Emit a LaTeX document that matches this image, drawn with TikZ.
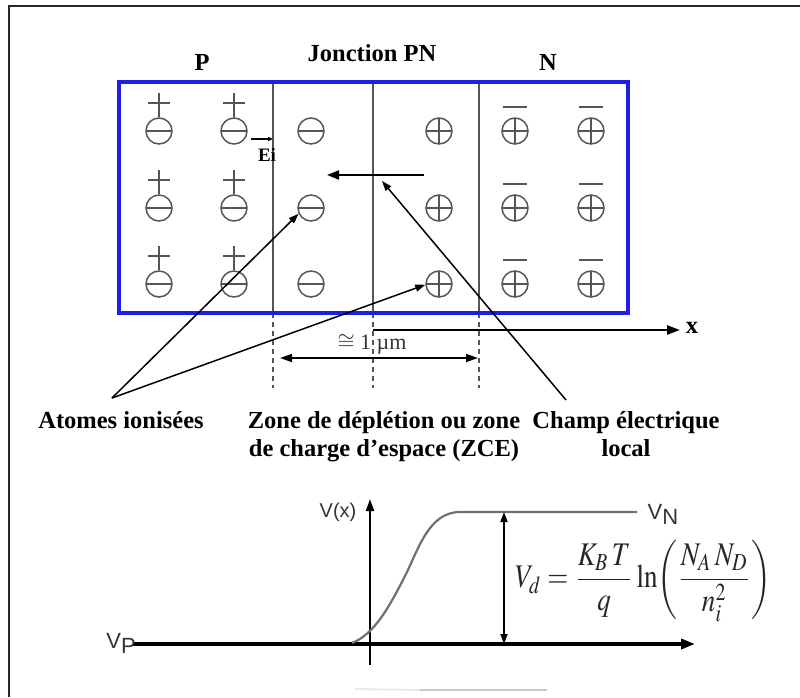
\documentclass[tikz,border=0pt]{standalone}
\usepackage{amsmath}
\usepackage{mathptmx}
\usepackage{fontspec}
\setmainfont{Liberation Serif}
\setsansfont{Liberation Sans}
\usetikzlibrary{arrows.meta}
\definecolor{ioncol}{HTML}{555555}
\definecolor{boxblue}{HTML}{1E1EE6}
\definecolor{curvecol}{HTML}{707070}
\begin{document}
\begin{tikzpicture}[x=1pt,y=-1pt,
  lbl/.style={font=\fontsize{24.5}{28}\selectfont\bfseries, align=center, inner sep=0},
  negion/.style={circle, draw=ioncol, line width=1.5, minimum size=26, inner sep=0,
    path picture={\draw[ioncol,line width=1.5] (path picture bounding box.west) -- (path picture bounding box.east);}},
  posion/.style={circle, draw=ioncol, line width=1.5, minimum size=26, inner sep=0,
    path picture={\draw[ioncol,line width=1.5] (path picture bounding box.west) -- (path picture bounding box.east)
      (path picture bounding box.north) -- (path picture bounding box.south);}},
  sep/.style={draw=ioncol, line width=1.5},
  dsep/.style={draw=ioncol, line width=1.5, dash pattern=on 5pt off 4pt},
  ptr/.style={line width=1.5, -{Triangle[length=10,width=7]}},
  sans/.style={font=\fontsize{20}{22}\sffamily, text=black!80, inner sep=0},
]
\useasboundingbox (0,0) rectangle (800,697);
% outer frame
\draw[line width=2.2, black!85] (9,697) -- (9,6) -- (800,6);

% titles
\node[lbl] (tP) at (202,62) {P};
\node[lbl] (tJ) at (372,53) {Jonction PN};
\node[lbl] (tN) at (548,62) {N};

% separators
\foreach \x in {273,373,479} {
  \draw[sep] (\x,82) -- (\x,313);
  \draw[dsep] (\x,313) -- (\x,388);
}
% blue box
\draw[boxblue, line width=4] (119,82) rectangle (628,313);

% ions
\foreach \r/\y in {1/131,2/208,3/284} {
  \node[negion] (pa\r) at (159,\y) {};
  \node[negion] (pb\r) at (234,\y) {};
  \node[negion] (nd\r) at (311,\y) {};
  \node[posion] (pd\r) at (439,\y) {};
  \node[posion] (na\r) at (515,\y) {};
  \node[posion] (nb\r) at (591,\y) {};
  % holes (+) above P ions
  \draw[ioncol, line width=1.5] (148,\y-28) -- (170,\y-28) (159,\y-38) -- (159,\y-14);
  \draw[ioncol, line width=1.5] (223,\y-28) -- (245,\y-28) (234,\y-38) -- (234,\y-14);
  % electrons (-) above N ions
  \draw[ioncol, line width=1.5] (503,\y-24) -- (527,\y-24);
  \draw[ioncol, line width=1.5] (579,\y-24) -- (603,\y-24);
}

% Ei label
\coordinate (eia) at (251,139);
\coordinate (eib) at (273,139);
\draw[line width=1.2, -{Triangle[length=5,width=4]}] (eia) -- (eib);
\node[font=\fontsize{19}{19}\selectfont\bfseries, inner sep=0] (ei) at (267,155) {Ei};

% local field arrow
\coordinate (Es) at (424,175);
\coordinate (Ee) at (327,175);
\draw[line width=2, -{Triangle[length=12,width=9]}] (Es) -- (Ee);

% x axis
\coordinate (xs) at (373,330);
\coordinate (xe) at (680,330);
\draw[line width=2.4, -{Triangle[length=13,width=9]}] (xs) -- (xe);
\node[lbl] (xl) at (692,328) {x};

% width arrow
\coordinate (wa) at (280,358);
\coordinate (wb) at (478,358);
\draw[line width=1.8, {Triangle[length=12,width=8]}-{Triangle[length=12,width=8]}] (wa) -- (wb);
\node[font=\fontsize{22}{22}\selectfont, text=black!80, inner sep=0] (wl) at (372,344) {$\cong$ 1 µm};

% labels
\node[lbl, anchor=base] (lat) at (121,428) {Atomes ionisées};
\node[lbl, anchor=base] (lz) at (384,456) {Zone de déplétion ou zone\\de charge d'espace (ZCE)};
\node[lbl, anchor=base] (lc) at (626,456) {Champ électrique\\local};

\coordinate (apex) at (112,398);
\draw[ptr] (apex) -- (nd2.205);
\draw[ptr] (apex) -- (pd3.183);
\coordinate (cs) at (566,400);
\coordinate (ct) at (382,181);
\draw[ptr] (cs) -- (ct);

% potential plot
\coordinate (ha) at (133,644);
\coordinate (hb) at (695,644);
\draw[line width=4, -{Triangle[length=14,width=10]}] (ha) -- (hb);
\coordinate (va) at (370,665);
\coordinate (vb) at (370,499);
\draw[line width=2, -{Triangle[length=12,width=8]}] (va) -- (vb);
\draw[curvecol, line width=2.2] (352,643) .. controls (375,634) and (390,605) .. (404,578)
   .. controls (418,551) and (428,512) .. (460,512) -- (637,512);
\coordinate (da) at (504,512);
\coordinate (db) at (504,644);
\draw[line width=1.8, {Triangle[length=10,width=7]}-{Triangle[length=10,width=7]}] (da) -- (db);

\node[sans] (vx) at (338,512) {V(x)};
\node[sans, font=\fontsize{22}{22}\sffamily] (vn) at (663,514) {V\raisebox{-5pt}{N}};
\node[sans, font=\fontsize{22}{22}\sffamily] (vp) at (121,643) {V\raisebox{-5pt}{P}};

\node[inner sep=0, anchor=west, text=black!85] (form) at (515,581)
  {\resizebox*{256pt}{82pt}{$\displaystyle V_d=\frac{K_B\,T}{q}\ln\!\left(\frac{N_A\,N_D}{n_i^2}\right)$}};

% faint bottom trace
\coordinate (fa) at (355,689);
\coordinate (fb) at (420,690);
\coordinate (fc) at (547,690);
\draw[black!8, line width=2] (fa) -- (fb);
\draw[black!22, line width=2] (fb) -- (fc);
\end{tikzpicture}
\end{document}
